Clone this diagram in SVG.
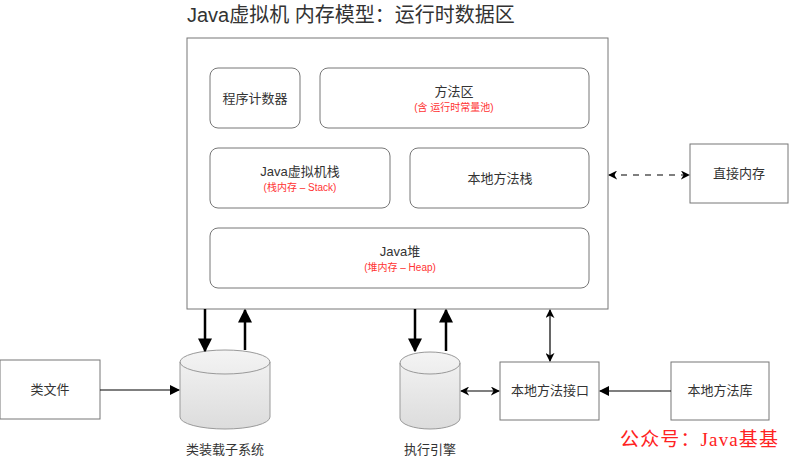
<svg xmlns="http://www.w3.org/2000/svg" width="790" height="458" viewBox="0 0 790 458">
<defs>
<style>
.box{fill:#fff;stroke:#777;stroke-width:1}
.t{font-family:"Liberation Sans","Noto Sans CJK SC",sans-serif;font-size:13px;fill:#333;text-anchor:middle}
.r{font-family:"Liberation Sans","Noto Sans CJK SC",sans-serif;font-size:10px;fill:#ff3333;text-anchor:middle}
.cyl{fill:url(#g);stroke:#999;stroke-width:1}
.thin{stroke:#000;stroke-width:1.2;fill:none}
.thick{stroke:#000;stroke-width:2.5;fill:none}
</style>
<linearGradient id="g" x1="0" y1="0" x2="0" y2="1">
<stop offset="0" stop-color="#f4f4f4"/>
<stop offset="1" stop-color="#dcdcdc"/>
</linearGradient>
<marker id="a" viewBox="0 0 10 10" refX="9" refY="5" markerWidth="9" markerHeight="9" markerUnits="userSpaceOnUse" orient="auto-start-reverse">
<path d="M0,0 L10,5 L0,10 L3,5 Z" fill="#000"/>
</marker>
<marker id="af" viewBox="0 0 10 10" refX="9" refY="5" markerWidth="10" markerHeight="10" markerUnits="userSpaceOnUse" orient="auto-start-reverse">
<path d="M0,0 L10,5 L0,10 Z" fill="#000"/>
</marker>
<marker id="ab" viewBox="0 0 10 10" refX="9" refY="5" markerWidth="14" markerHeight="14" markerUnits="userSpaceOnUse" orient="auto">
<path d="M0,0 L10,5 L0,10 Z" fill="#000"/>
</marker>
</defs>
<rect width="790" height="458" fill="#fff"/>
<text x="187" y="22" font-family="Liberation Sans,'Noto Sans CJK SC',sans-serif" font-size="20" fill="#333">Java虚拟机 内存模型：运行时数据区</text>
<g id="jvm"><rect class="box" x="187" y="38" width="421" height="271"/></g>
<g id="pc"><rect class="box" x="210" y="68" width="90" height="60" rx="8"/><text class="t" x="255" y="103">程序计数器</text></g>
<g id="method"><rect class="box" x="320" y="68" width="269" height="60" rx="8"/><text class="t" x="454" y="96">方法区</text><text class="r" x="454" y="111">(含 运行时常量池)</text></g>
<g id="vmstack"><rect class="box" x="210" y="148" width="180" height="60" rx="8"/><text class="t" x="300" y="176">Java虚拟机栈</text><text class="r" x="300" y="191">(栈内存 – Stack)</text></g>
<g id="nstack"><rect class="box" x="410" y="148" width="179" height="60" rx="8"/><text class="t" x="500" y="183">本地方法栈</text></g>
<g id="heap"><rect class="box" x="210" y="228" width="379" height="60" rx="8"/><text class="t" x="400" y="256">Java堆</text><text class="r" x="400" y="271">(堆内存 – Heap)</text></g>
<g id="direct"><rect class="box" x="690" y="144" width="98" height="59"/><text class="t" x="739" y="178">直接内存</text></g>
<g id="classfile"><rect class="box" x="0" y="360" width="100" height="59"/><text class="t" x="50" y="394">类文件</text></g>
<g id="loader"><path class="cyl" d="M180,362 A45,12 0 0 1 270,362 L270,417 A45,12 0 0 1 180,417 Z"/><path d="M180,362 A45,12 0 0 0 270,362" fill="none" stroke="#999"/><text class="t" x="225" y="454">类装载子系统</text></g>
<g id="engine"><path class="cyl" d="M400,363 A30,11 0 0 1 460,363 L460,418 A30,11 0 0 1 400,418 Z"/><path d="M400,363 A30,11 0 0 0 460,363" fill="none" stroke="#999"/><text class="t" x="430" y="454">执行引擎</text></g>
<g id="jni"><rect class="box" x="500" y="362" width="99" height="58"/><text class="t" x="550" y="395">本地方法接口</text></g>
<g id="nlib"><rect class="box" x="671" y="362" width="98" height="58"/><text class="t" x="720" y="395">本地方法库</text></g>
<g id="connectors">
<line class="thin" x1="609" y1="175" x2="689" y2="175" stroke-dasharray="6,6" marker-start="url(#a)" marker-end="url(#a)"/>
<line class="thin" x1="100" y1="390" x2="179" y2="390" marker-end="url(#af)"/>
<line class="thick" x1="205" y1="309" x2="205" y2="351" marker-end="url(#ab)"/>
<line class="thick" x1="245" y1="350" x2="245" y2="310" marker-end="url(#ab)"/>
<line class="thick" x1="415" y1="309" x2="415" y2="351" marker-end="url(#ab)"/>
<line class="thick" x1="446" y1="351" x2="446" y2="310" marker-end="url(#ab)"/>
<line class="thin" x1="461" y1="391" x2="499" y2="391" marker-start="url(#a)" marker-end="url(#a)"/>
<line class="thin" x1="550" y1="310" x2="550" y2="361" marker-start="url(#a)" marker-end="url(#a)"/>
<line class="thin" x1="671" y1="391" x2="600" y2="391" marker-end="url(#af)"/>
</g>
<text x="620" y="446" font-family="'Liberation Serif','Noto Sans CJK SC',serif" font-size="19" fill="#ff2222" textLength="158" lengthAdjust="spacing">公众号：Java基基</text>
</svg>
